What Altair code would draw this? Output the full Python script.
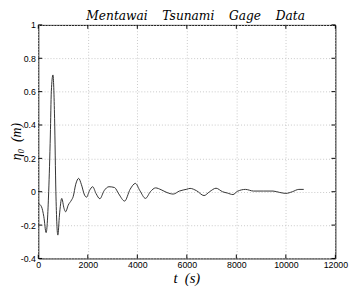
import altair as alt
import pandas as pd

t_s = [0, 130, 224, 316, 420, 487, 526, 592, 658, 710, 790, 855, 947, 1040, 1105, 1210,
       1342, 1408, 1513, 1632, 1737, 1869, 1948, 2066, 2198, 2330, 2487, 2658, 2856, 3080,
       3250, 3487, 3711, 3922, 4106, 4330, 4527, 4738, 4961, 5200, 5450, 5700, 6000, 6131,
       6393, 6695, 6918, 7180, 7443, 7640, 7862, 8039, 8367, 8695, 9088, 9482, 9744, 10000,
       10262, 10525, 10722]
eta_m = [-0.07, -0.09, -0.15, -0.245, 0.0, 0.34, 0.6, 0.70, 0.44, 0.0, -0.26, -0.14, -0.04,
         -0.10, -0.12, -0.08, -0.05, -0.03, 0.045, 0.08, 0.045, -0.02, -0.033, 0.006, 0.03,
         -0.01, -0.042, 0.006, 0.03, 0.025, -0.013, -0.056, 0.015, 0.05, 0.006, -0.04, 0.0,
         0.023, 0.012, -0.005, -0.014, 0.004, 0.015, 0.02, 0.006, -0.023, 0.0, 0.021, 0.0,
         -0.008, -0.017, 0.002, 0.014, 0.004, 0.004, 0.004, -0.004, -0.01, 0.0, 0.014, 0.014]
x_ticks = [0, 2000, 4000, 6000, 8000, 10000, 12000]
y_ticks = [-0.4, -0.2, 0, 0.2, 0.4, 0.6, 0.8, 1]
title_text = ["Mentawai\u2003\u2009Tsunami\u2003\u2009Gage\u2003\u2009Data"]
x_title = ["t\u2002(s)"]
y_title = ["η₀\u2002(m)"]

W, H = 304, 239
df = pd.DataFrame({"t": t_s, "eta": eta_m})
xt = pd.DataFrame({"v": x_ticks})
yt = pd.DataFrame({"v": y_ticks})

xs = alt.Scale(domain=[0, 12000], nice=False, zero=False)
ys = alt.Scale(domain=[-0.4, 1], nice=False, zero=False)

grid_kw = dict(grid=True, gridColor="#c8c8c8", gridDash=[1, 2], gridWidth=1,
               domain=False, ticks=False, labelFont="Liberation Sans", labelFontSize=9,
               labelColor="#000", labelFlush=False, title=None)

x_axis = alt.Axis(values=x_ticks, labelPadding=2, labelExpr="format(datum.value, 'd')", **grid_kw)
y_axis = alt.Axis(values=y_ticks, labelPadding=3,
                  labelExpr="replace(format(datum.value, '.1~f'), '−', '-')", **grid_kw)

line = alt.Chart(df).mark_line(color="#303030", strokeWidth=1, interpolate="monotone").encode(
    x=alt.X("t:Q", scale=xs, axis=x_axis),
    y=alt.Y("eta:Q", scale=ys, axis=y_axis),
)

tk = dict(color="#000", strokeWidth=1)
xb = alt.Chart(xt).mark_rule(**tk).encode(x=alt.X("v:Q", scale=xs, axis=x_axis), y=alt.value(H), y2=alt.value(H - 4))
xtop = alt.Chart(xt).mark_rule(**tk).encode(x=alt.X("v:Q", scale=xs, axis=x_axis), y=alt.value(0), y2=alt.value(4))
yl = alt.Chart(yt).mark_rule(**tk).encode(y=alt.Y("v:Q", scale=ys, axis=y_axis), x=alt.value(0), x2=alt.value(4))
yr = alt.Chart(yt).mark_rule(**tk).encode(y=alt.Y("v:Q", scale=ys, axis=y_axis), x=alt.value(W), x2=alt.value(W - 4))

title = alt.Chart(pd.DataFrame({"label": title_text})).mark_text(
    font="DejaVu Serif", fontStyle="italic", fontSize=12.5, color="#000",
    align="center", baseline="alphabetic").encode(
    x=alt.value(W / 2 + 9), y=alt.value(-5), text="label:N")

xlab = alt.Chart(pd.DataFrame({"label": x_title})).mark_text(
    font="Liberation Serif", fontStyle="italic", fontSize=15, color="#000",
    align="center", baseline="alphabetic").encode(
    x=alt.value(W / 2), y=alt.value(H + 25), text="label:N")

ylab = alt.Chart(pd.DataFrame({"label": y_title})).mark_text(
    font="Liberation Serif", fontStyle="italic", fontSize=14, color="#000",
    align="center", baseline="middle", angle=270).encode(
    x=alt.value(-22), y=alt.value(H / 2), text="label:N")

chart = alt.layer(line, xb, xtop, yl, yr, title, xlab, ylab).properties(
    width=W, height=H,
    autosize=alt.AutoSizeParams(type="none"),
    padding={"left": 31, "top": 14, "right": 16, "bottom": 30},
).configure(background="white").configure_view(stroke="#000", strokeWidth=1)

chart.save("out.html", embed_options={"renderer": "svg", "actions": False})
